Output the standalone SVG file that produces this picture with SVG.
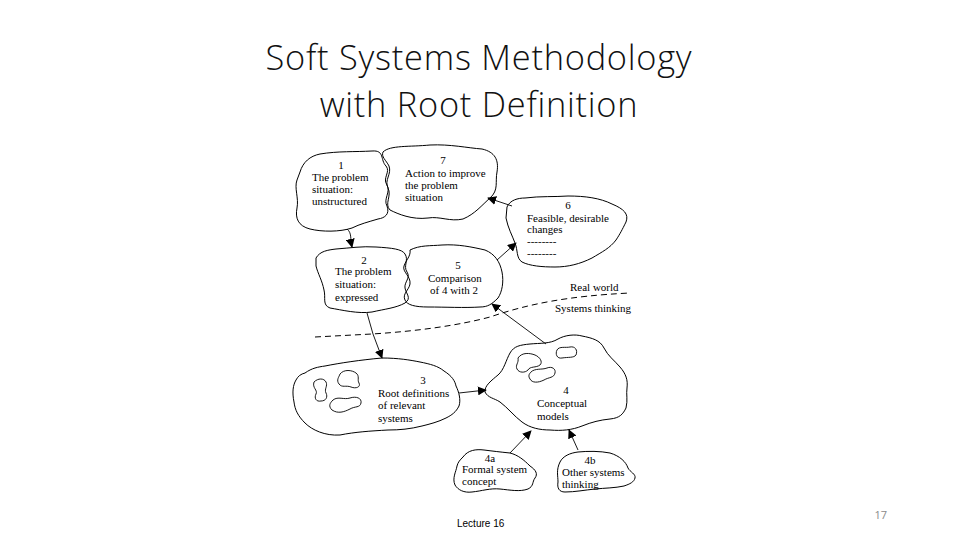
<svg xmlns="http://www.w3.org/2000/svg" width="960" height="540" viewBox="0 0 960 540">
<defs>
<marker id="ah" viewBox="0 0 10 10" refX="9" refY="5" markerWidth="9" markerHeight="9" markerUnits="userSpaceOnUse" orient="auto">
<path d="M0,0 L10,5 L0,10 Z" fill="#000"/>
</marker>
<style>
.title{font-family:"Open Sans","Liberation Sans",sans-serif;font-weight:300;font-size:34.4px;letter-spacing:0.75px;fill:#111;text-anchor:middle}
.cloud{fill:none;stroke:#000;stroke-width:1}
.blob{fill:none;stroke:#000;stroke-width:0.9}
.t{font-family:"Liberation Serif","Times New Roman",serif;font-size:11px;fill:#000}
.c{text-anchor:middle}
.con{fill:none;stroke:#000;stroke-width:0.9}
.arr{marker-end:url(#ah)}
.dash{fill:none;stroke:#000;stroke-width:1;stroke-dasharray:6 4}
</style>
</defs>
<rect width="960" height="540" fill="#fff"/>
<text class="title" x="479" y="70">Soft Systems Methodology</text>
<text class="title" x="479" y="117">with Root Definition</text>

<g id="node1">
<path class="cloud" d="M300,172 C303,162 310,156 320,154 C338,151 355,152 372,151 C385,150 380,160 386,166 C391,172 382,178 387,185 C391,192 383,199 387,206 C390,214 385,218 378,219 C368,222 360,224 352,228 C340,232 322,232 310,229 C298,226 295,218 297,208 C299,198 294,188 297,180 Z"/>
<text class="t c" x="341" y="169">1</text>
<text class="t" x="312" y="181">The problem</text>
<text class="t" x="312" y="193">situation:</text>
<text class="t" x="312" y="205">unstructured</text>
</g>

<g id="node7">
<path class="cloud" d="M383,152 C390,145 410,147 430,145 C450,144 468,148 482,149 C495,152 499,160 497,172 C495,182 499,190 490,198 C482,205 475,214 463,219 C450,222 440,216 428,218 C412,220 398,214 390,210 C384,204 392,196 388,188 C384,180 392,174 389,166 C386,160 381,157 383,152 Z"/>
<text class="t c" x="443" y="164">7</text>
<text class="t" x="405" y="177">Action to improve</text>
<text class="t" x="405" y="189">the problem</text>
<text class="t" x="405" y="201">situation</text>
</g>

<g id="node6">
<path class="cloud" d="M507,207 C510,200 518,198 525,198 C540,196 555,197 568,196 C585,196 600,198 612,204 C624,209 629,214 626,222 C622,230 620,234 616,240 C610,248 602,252 592,258 C580,264 568,267 555,267 C542,267 530,266 522,262 C516,258 518,250 515,243 C512,235 508,228 506,218 Z"/>
<text class="t c" x="568" y="209">6</text>
<text class="t" x="527" y="222">Feasible, desirable</text>
<text class="t" x="527" y="233">changes</text>
<text class="t" x="527" y="245">--------</text>
<text class="t" x="527" y="257">--------</text>
</g>

<g id="node2">
<path class="cloud" d="M316,258 C320,251 328,250 336,249 C350,248 362,246 376,247 C392,248 402,249 405,254 C409,260 403,266 407,272 C411,278 404,282 405,288 C406,294 412,298 405,303 C396,308 385,309 372,312 C358,314 342,310 330,308 C322,305 326,298 324,290 C322,280 318,274 316,266 Z"/>
<text class="t c" x="364" y="264">2</text>
<text class="t" x="335" y="275">The problem</text>
<text class="t" x="335" y="288">situation:</text>
<text class="t" x="335" y="301">expressed</text>
</g>

<g id="node5">
<path class="cloud" d="M410,250 C420,245 430,246 442,245 C458,244 472,247 485,250 C495,254 500,262 502,272 C504,282 502,292 498,298 C492,304 488,307 480,307 C465,308 445,307 428,307 C415,307 407,305 405,300 C402,294 409,290 410,284 C411,276 402,272 404,266 C406,260 411,256 410,250 Z"/>
<text class="t c" x="458" y="269">5</text>
<text class="t" x="428" y="282">Comparison</text>
<text class="t" x="430" y="294">of 4 with 2</text>
</g>

<g id="node3">
<path class="cloud" d="M305,373 C312,368 318,367 325,366 C340,363 360,360 382,358 C398,358 410,360 420,362 C430,364 438,366 444,371 C452,376 455,381 456,386 C459,392 461,400 459,406 C456,412 452,415 446,418 C438,422 430,424 422,426 C410,429 400,430 388,430 C370,431 355,432 340,435 C325,436 312,430 305,423 C298,416 295,410 294,402 C292,392 293,385 296,380 C298,376 301,374 305,373 Z"/>
<path class="blob" d="M314,382 C318,378 324,378 326,382 C328,386 324,389 326,393 C328,397 326,401 321,401 C316,402 314,398 316,394 C318,390 312,388 314,382 Z"/>
<path class="blob" d="M340,374 C344,369 352,370 356,373 C360,376 357,380 359,383 C361,387 356,389 351,387 C346,385 342,388 339,384 C336,380 339,377 340,374 Z"/>
<path class="blob" d="M333,400 C338,396 344,400 350,398 C356,396 362,398 361,403 C360,408 355,406 350,409 C344,412 338,414 332,410 C328,406 330,403 333,400 Z"/>
<text class="t c" x="423" y="384">3</text>
<text class="t" x="378" y="397">Root definitions</text>
<text class="t" x="378" y="409">of relevant</text>
<text class="t" x="378" y="422">systems</text>
</g>

<g id="node4">
<path class="cloud" d="M510,353 C514,346 520,345 530,344 C540,343 550,344 558,339 C565,335 575,334 582,336 C592,338 600,340 604,348 C608,356 614,360 620,367 C626,374 628,380 627,388 C626,394 628,400 626,408 C623,414 620,418 610,419 C600,420 592,422 582,426 C572,430 562,431 550,430 C540,430 530,428 522,422 C514,416 508,408 500,402 C494,398 488,398 485,392 C484,386 492,380 498,375 C504,370 506,360 510,353 Z"/>
<path class="blob" d="M518,358 C522,352 530,353 535,355 C540,357 543,362 540,365 C536,368 530,366 528,370 C525,373 519,373 517,369 C515,365 519,363 518,358 Z"/>
<path class="blob" d="M557,350 C559,346 566,348 570,347 C575,346 578,350 576,355 C574,358 568,357 562,358 C557,359 555,354 557,350 Z"/>
<path class="blob" d="M531,372 C535,368 542,370 547,368 C552,366 556,369 555,373 C554,378 549,377 544,380 C538,383 532,383 530,379 C528,376 529,374 531,372 Z"/>
<text class="t c" x="566" y="394">4</text>
<text class="t" x="537" y="407">Conceptual</text>
<text class="t" x="537" y="420">models</text>
</g>

<g id="node4a">
<path class="cloud" d="M463,457 C468,450 476,449 484,450 C492,451 500,452 510,453 C518,455 524,460 530,466 C536,470 538,474 535,478 C532,482 534,486 528,489 C520,492 510,490 500,489 C490,488 482,491 472,492 C464,493 458,490 455,485 C452,478 456,472 457,466 C458,462 460,460 463,457 Z"/>
<text class="t c" x="490" y="462">4a</text>
<text class="t" x="462" y="473">Formal system</text>
<text class="t" x="462" y="485">concept</text>
</g>

<g id="node4b">
<path class="cloud" d="M560,462 C563,456 570,453 578,452 C588,451 600,451 610,453 C620,456 626,462 628,468 C630,472 636,474 635,478 C634,482 630,484 624,486 C615,488 605,488 595,489 C585,490 575,492 565,492 C559,492 557,488 558,482 C558,476 556,470 560,462 Z"/>
<text class="t c" x="590" y="464">4b</text>
<text class="t" x="562" y="476">Other systems</text>
<text class="t" x="562" y="488">thinking</text>
</g>

<g id="boundary">
<path class="dash" d="M315,337 L372,334 C420,331 460,325 490,317 C528,304 568,296 630,293"/>
<text class="t" x="570" y="291">Real world</text>
<text class="t" x="555" y="312">Systems thinking</text>
</g>

<g id="connectors">
<path class="con arr" d="M347,229 C352,233 350,238 352,247"/>
<path class="con arr" d="M512,206 L488,198"/>
<path class="con arr" d="M497,260 L516,243"/>
<path class="con arr" d="M367,313 L373,334 L382,358"/>
<path class="con arr" d="M546,344 L492,304"/>
<path class="con arr" d="M459,393 L486,390"/>
<path class="con arr" d="M510,453 L531,431"/>
<path class="con arr" d="M578,450 L569,430"/>
</g>

<text x="457" y="527" font-family="'Liberation Sans',Arial,sans-serif" font-size="10" fill="#000">Lecture 16</text>
<text x="887" y="519" font-family="'Open Sans','Liberation Sans',sans-serif" font-size="11" fill="#8a8a8a" text-anchor="end">17</text>
</svg>
